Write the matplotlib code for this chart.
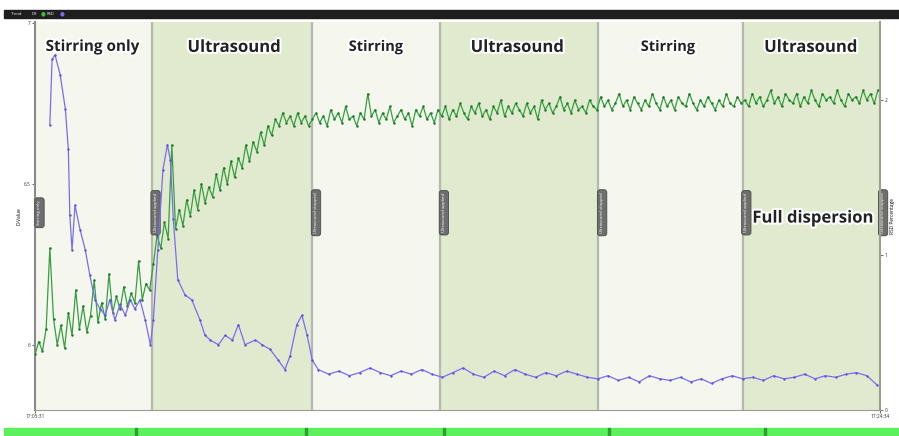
import numpy as np
import matplotlib.pyplot as plt
import matplotlib.patheffects as pe

plt.rcParams['font.family'] = ['Open Sans', 'DejaVu Sans']

# time in seconds from 17:05:31 to 17:24:34
T_END = 1143
start_label = "17:05:31"
end_label = "17:24:34"

# phases
phase_edges = [0, 158, 375, 548, 762, 957, 1143]
phase_names = ["Stirring only", "Ultrasound", "Stirring", "Ultrasound", "Stirring", "Ultrasound"]
phase_kind = ["stir", "us", "stir", "us", "stir", "us"]

# D9 (green, left axis) - sampled every 5 s
d9_t = np.arange(0, 1145, 5)
d9_v1 = [5.97, 6.01, 5.98, 6.05, 6.30, 6.08, 6.00, 6.06, 5.99, 6.10,
         6.03, 6.17, 6.05, 6.12, 6.04, 6.09, 6.20, 6.07, 6.13, 6.08,
         6.22, 6.10, 6.15, 6.11, 6.18, 6.12, 6.16, 6.13, 6.26, 6.14,
         6.19, 6.17,
         6.25, 6.34, 6.30, 6.38, 6.33, 6.62, 6.36, 6.42, 6.37, 6.45,
         6.40, 6.48, 6.42, 6.50, 6.44, 6.49, 6.46, 6.53, 6.48, 6.55,
         6.50, 6.57, 6.52, 6.58, 6.55, 6.62, 6.57, 6.63, 6.60, 6.66,
         6.62, 6.68, 6.65, 6.70, 6.68, 6.72, 6.69, 6.71, 6.68, 6.72,
         6.69, 6.71, 6.68, 6.70]
d9_v2 = [6.72, 6.69, 6.71, 6.68, 6.73, 6.70, 6.72, 6.69, 6.74, 6.70,
         6.71, 6.68, 6.72, 6.70, 6.78, 6.71, 6.73, 6.69, 6.72, 6.70,
         6.74, 6.69, 6.71, 6.73, 6.70, 6.72, 6.68, 6.73, 6.71, 6.74,
         6.70, 6.72, 6.69, 6.73,
         6.71, 6.74, 6.70, 6.73, 6.71, 6.75, 6.72, 6.70, 6.74, 6.72,
         6.75, 6.71, 6.73, 6.70, 6.74, 6.72, 6.76, 6.71, 6.74, 6.72,
         6.75, 6.73, 6.71, 6.75, 6.72, 6.74, 6.70, 6.76, 6.73, 6.75,
         6.72, 6.74, 6.77, 6.73, 6.75, 6.72, 6.76, 6.73, 6.74, 6.72,
         6.76, 6.74, 6.73,
         6.77, 6.74, 6.76, 6.73, 6.75, 6.78, 6.74, 6.76, 6.73, 6.77,
         6.75, 6.73, 6.76, 6.74, 6.78, 6.75, 6.73, 6.77, 6.74, 6.76,
         6.73, 6.77, 6.75, 6.74, 6.78, 6.75, 6.73, 6.76, 6.74, 6.77,
         6.75, 6.73, 6.76, 6.74, 6.78, 6.75, 6.74, 6.77, 6.75,
         6.76, 6.74, 6.78, 6.75, 6.77, 6.74, 6.76, 6.79, 6.75, 6.77,
         6.74, 6.78, 6.76, 6.75, 6.78, 6.74, 6.77, 6.75, 6.79, 6.76,
         6.74, 6.78, 6.76, 6.77, 6.75, 6.79, 6.76, 6.74, 6.78, 6.76,
         6.77, 6.75, 6.79, 6.76, 6.78, 6.75, 6.79]
d9_v = d9_v1 + d9_v2

# RSD (blue, right axis) - irregular points early, then every 14 s
rsd_t1 = [20, 23, 27, 34, 41, 45, 47, 50, 54, 61, 68, 74, 81, 88, 95, 101,
          108, 115, 122, 129, 135, 142, 149, 156, 160, 166, 173, 179, 183,
          187, 193, 203, 212, 223, 230, 237, 248, 257, 267, 275, 284, 298,
          307, 318, 329, 338, 345, 354, 361, 368, 375]
rsd_v1 = [1.84, 2.26, 2.29, 2.16, 1.94, 1.68, 1.26, 1.03, 1.32, 1.16, 1.03,
          0.87, 0.71, 0.65, 0.61, 0.71, 0.58, 0.68, 0.61, 0.71, 0.65, 0.71,
          0.58, 0.42, 0.58, 1.03, 1.55, 1.71, 1.61, 1.23, 0.84, 0.74, 0.71,
          0.58, 0.48, 0.45, 0.42, 0.48, 0.45, 0.55, 0.42, 0.45, 0.42, 0.39,
          0.32, 0.26, 0.35, 0.55, 0.61, 0.48, 0.32]
rsd_t2 = np.arange(383, 1145, 14)
rsd_v2 = [0.26, 0.23, 0.25, 0.22, 0.24, 0.27, 0.24, 0.22, 0.25, 0.23, 0.26, 0.23,
          0.21, 0.24, 0.27, 0.23, 0.21, 0.25, 0.22, 0.26, 0.23, 0.21, 0.24, 0.22,
          0.25, 0.23, 0.21,
          0.20, 0.22, 0.19, 0.21, 0.18, 0.22, 0.20, 0.19, 0.21, 0.18, 0.20, 0.17,
          0.20, 0.22,
          0.20, 0.21, 0.19, 0.22, 0.20, 0.21, 0.23, 0.20, 0.22, 0.21, 0.23, 0.24,
          0.22, 0.16]

STIR_COLOR = '#f5f6ee'
US_COLOR = '#e1eacf'

fig = plt.figure(figsize=(8.99, 4.36), dpi=100)
ax = fig.add_axes([0.039, 0.06, 0.94, 0.89])
ax2 = ax.twinx()

for i in range(len(phase_names)):
    c = STIR_COLOR if phase_kind[i] == "stir" else US_COLOR
    ax.axvspan(phase_edges[i], phase_edges[i + 1], color=c, zorder=0, lw=0)
    if i > 0:
        ax.axvline(phase_edges[i], color='#b4b8ae', lw=1.6, zorder=1)

ax.plot(d9_t, d9_v, color='#34a040', lw=0.9, marker='o', ms=0.8,
        mfc='#1d7a26', mec='#1d7a26', zorder=3)
ax2.plot(list(rsd_t1) + list(rsd_t2), rsd_v1 + rsd_v2, color='#7a6cf0', lw=0.9,
         marker='o', ms=0.7, mfc='#5a4ce0', mec='#5a4ce0', zorder=3)

ax.set_xlim(0, T_END)
ax.set_ylim(5.798, 7.003)
ax2.set_ylim(0, 2.503)
ax.set_yticks([6, 6.5, 7])
ax.set_yticklabels(["6", "6.5", "7"])
ax2.set_yticks([0, 1, 2])
ax.set_xticks([0, T_END])
ax.set_xticklabels([start_label, end_label])
for a in (ax, ax2):
    a.tick_params(labelsize=3.5, length=2, width=0.5, pad=1, colors='#333333')
    for s in a.spines.values():
        s.set_visible(False)
ax.spines['left'].set_visible(True)
ax.spines['left'].set_color('#8a8a8a')
ax.spines['left'].set_linewidth(1.5)
ax.spines['bottom'].set_visible(True)
ax.spines['bottom'].set_color('#9a9a9a')
ax.spines['bottom'].set_linewidth(0.8)
ax2.spines['right'].set_visible(True)
ax2.spines['right'].set_color('#9aa090')
ax2.spines['right'].set_linewidth(1.5)
ax.set_ylabel("D-Value", fontsize=3.5, labelpad=2)
ax2.set_ylabel("RSD Percentage", fontsize=3.5, labelpad=2)

halo = [pe.withStroke(linewidth=3, foreground='white')]
label_x = [78, 269, 461, 652, 856, 1049]
label_size = [11, 12, 10.5, 12, 10.5, 12]
for i, name in enumerate(phase_names):
    ax.text(label_x[i], 6.925, name, ha='center', va='center', fontsize=label_size[i],
            fontweight='bold', color='#222222', path_effects=halo, zorder=5)
ax.text(1052, 6.395, "Full dispersion", ha='center', va='center', fontsize=12,
        fontweight='bold', color='#222222', path_effects=halo, zorder=5)

# event tags at phase changes
tag_names = ["Stirring only", "Ultrasound applied", "Ultrasound stopped", "Ultrasound applied",
             "Ultrasound stopped", "Ultrasound applied", "Ultrasound stopped"]
tag_x = [6] + [e + 5 for e in phase_edges[1:-1]] + [T_END + 4]
for x, nm in zip(tag_x, tag_names):
    ax.text(x, 6.41, nm, rotation=90, ha='center', va='center', fontsize=3.2,
            color='white', zorder=6, clip_on=False,
            bbox=dict(boxstyle='round,pad=0.6', fc='#6e6e6e', ec='#4a4a4a', lw=0.6))

# top toolbar strip
fig.patches.append(plt.Rectangle((0.005, 0.959), 0.995, 0.018, transform=fig.transFigure,
                                 color='#1e1e1e', zorder=0))
fig.text(0.012, 0.968, "Trend", fontsize=3, color='white', va='center')
fig.text(0.035, 0.968, "D9", fontsize=3, color='white', va='center')
fig.text(0.045, 0.968, "\u25cf", fontsize=4, color='#3cc03c', va='center')
fig.text(0.052, 0.968, "RSD", fontsize=3, color='white', va='center')
fig.text(0.066, 0.968, "\u25cf", fontsize=4, color='#7a6cf0', va='center')

# bottom green strip
fig.patches.append(plt.Rectangle((0.005, 0.0), 0.995, 0.019, transform=fig.transFigure,
                                 color='#5cf05c', zorder=0))
for xe in [135, 305, 443, 608, 764]:
    fig.patches.append(plt.Rectangle((xe / 899, 0.0), 0.002, 0.019, transform=fig.transFigure,
                                     color='#2fa02f', zorder=1))

fig.savefig("out.png", dpi=100)
